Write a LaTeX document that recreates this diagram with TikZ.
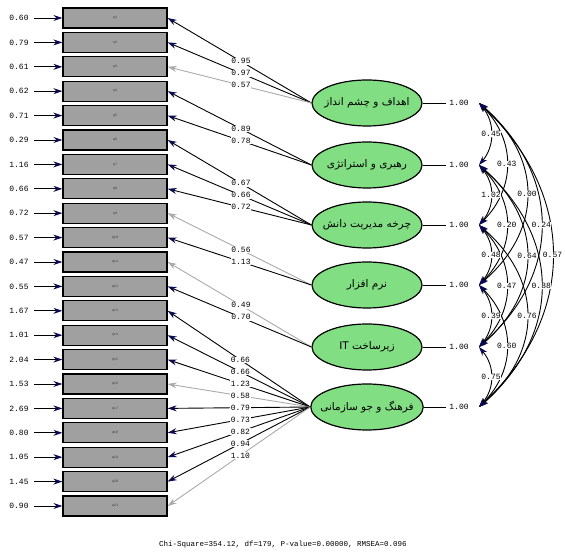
\documentclass[tikz,border=0pt]{standalone}
\usepackage{fontspec}
\setmonofont{Liberation Mono}
\newfontfamily\fafont[Script=Arabic]{DejaVu Sans}
\TeXXeTstate=1
\usetikzlibrary{arrows.meta,shapes.geometric}
\definecolor{boxgray}{RGB}{160,160,160}
\definecolor{lgreen}{RGB}{130,222,130}
\definecolor{lnavy}{RGB}{10,10,80}
\definecolor{lgray}{RGB}{170,170,170}
\begin{document}
\begin{tikzpicture}[x=1pt,y=-1pt,
  indic/.style={draw=black, line width=1.3pt, fill=boxgray, minimum width=104pt, minimum height=20pt, inner sep=0pt, font=\ttfamily\fontsize{3.5}{4}\selectfont, text=black!75},
  latent/.style={ellipse, draw=black, line width=1.2pt, fill=lgreen, minimum width=110pt, minimum height=46pt, inner xsep=-7pt, inner ysep=0pt, font=\fafont\fontsize{10.5}{12}\selectfont},
  num/.style={font=\ttfamily\fontsize{8}{9}\selectfont, inner sep=0.6pt},
  numw/.style={num, fill=white},
  darr/.style={draw=black, line width=0.9pt, -{Stealth[length=9pt,width=6pt,color=lnavy]}},
  garr/.style={draw=lgray, line width=0.9pt, -{Stealth[length=9pt,width=6pt,color=lgray]}},
  carr/.style={draw=black, line width=0.9pt, {Stealth[length=9pt,width=6pt,color=lnavy]}-{Stealth[length=9pt,width=6pt,color=lnavy]}},
  varline/.style={draw=black, line width=0.8pt},
]
\useasboundingbox (0,0) rectangle (565,553);

% indicators and error terms
\foreach \k/\e in {1/0.60,2/0.79,3/0.61,4/0.62,5/0.71,6/0.29,7/1.16,8/0.66,9/0.72,10/0.57,11/0.47,12/0.55,13/1.67,14/1.01,15/2.04,16/1.53,17/2.69,18/0.80,19/1.05,20/1.45,21/0.90}{
  \pgfmathsetmacro\yy{18+24.4*(\k-1)}
  \node[indic] (b\k) at (115,\yy) {q\k};
  \node[num] (e\k) at (19,\yy) {\e};
  \draw[darr, shorten <=5pt] (e\k) -- (b\k);
}

% latent variables
\node[latent] (f1) at (367,103) {\beginR اهداف و چشم انداز\endR};
\node[latent] (f2) at (367,165) {\beginR رهبری و استراتژی\endR};
\node[latent] (f3) at (367,225) {\beginR چرخه مدیریت دانش\endR};
\node[latent] (f4) at (367,285) {\beginR نرم افزار\endR};
\node[latent] (f5) at (367,347) {\beginR زیرساخت \beginL IT\endL\endR};
\node[latent] (f6) at (367,407) {\beginR فرهنگ و جو سازمانی\endR};

% variances
\foreach \i/\y in {1/103,2/165,3/225,4/285,5/347,6/407}{
  \node[num] (v\i) at (459,\y) {1.00};
  \draw[varline, shorten >=3pt] (f\i) -- (v\i);
  \coordinate (c\i) at (479,\y);
}

% loadings
\foreach \b/\f/\l/\s in {1/1/0.95/darr,2/1/0.97/darr,3/1/0.57/garr,4/2/0.89/darr,5/2/0.78/darr,6/3/0.67/darr,7/3/0.66/darr,8/3/0.72/darr,9/4/0.56/garr,10/4/1.13/darr,11/5/0.49/garr,12/5/0.70/darr,13/6/0.66/darr,14/6/0.66/darr,15/6/1.23/darr,16/6/0.58/garr,17/6/0.79/darr,18/6/0.73/darr,19/6/0.82/darr,20/6/0.94/darr,21/6/1.10/garr}{
  \draw[\s] (f\f.west) -- node[numw,pos=0.49]{\l} (b\b.east);
}

% correlations
\foreach \i/\j/\l/\dx/\k in {1/6/0.57/98/91,2/6/0.88/83/73,1/5/0.24/83/73,3/6/0.76/64/55,2/5/0.64/64/55,1/4/0.00/64/55,4/6/0.60/37/37,3/5/0.47/37/37,2/4/0.20/37/37,1/3/0.43/37/37,5/6/0.75/16/19,4/5/0.39/16/19,3/4/0.48/16/19,2/3/1.02/16/19,1/2/0.45/16/19}{
  \draw[carr] (c\i) .. controls +(\dx,\k) and +(\dx,-\k) .. (c\j) node[numw,pos=0.5]{\l};
}

\node[font=\ttfamily\fontsize{7.5}{8}\selectfont] (chi) at (283,545) {Chi-Square=354.12, df=179, P-value=0.00000, RMSEA=0.096};
\end{tikzpicture}
\end{document}
